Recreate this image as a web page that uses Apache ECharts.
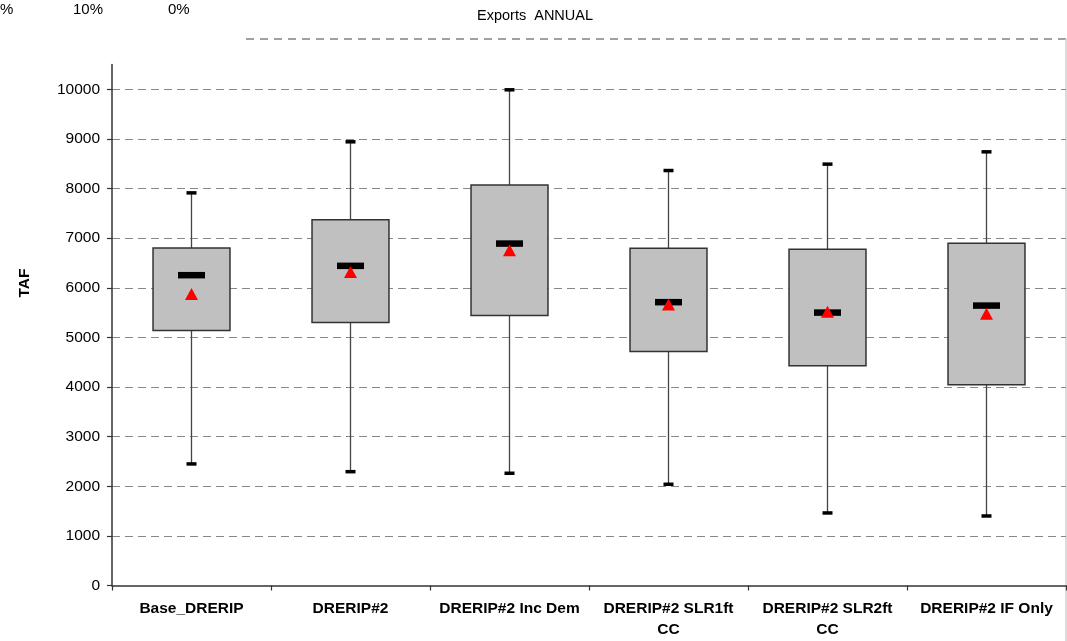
<!DOCTYPE html>
<html>
<head>
<meta charset="utf-8">
<style>
  html, body { margin: 0; padding: 0; background: #fff; }
  #chart { width: 1067px; height: 641px; }
</style>
<script src="https://cdn.jsdelivr.net/npm/echarts@6/dist/echarts.min.js"></script>
</head>
<body>
<div id="chart"></div>
<script>
// ---- data ----
const categories = ['Base_DRERIP', 'DRERIP#2', 'DRERIP#2 Inc Dem', 'DRERIP#2 SLR1ft\nCC', 'DRERIP#2 SLR2ft\nCC', 'DRERIP#2 IF Only'];
const minValues    = [2450, 2294, 2262, 2040, 1462, 1401];
const q1Values     = [5137, 5298, 5440, 4714, 4431, 4048];
const medianValues = [6254, 6442, 6891, 5710, 5500, 5641];
const q3Values     = [6804, 7369, 8069, 6798, 6778, 6899];
const maxValues    = [7913, 8942, 9990, 8363, 8492, 8740];
const meanValues   = [5873, 6317, 6758, 5665, 5518, 5478];
const yTickValues  = [0, 1000, 2000, 3000, 4000, 5000, 6000, 7000, 8000, 9000, 10000];

const FONT = '"Liberation Sans", Arial, sans-serif';

const boxData = categories.map((c, i) => [i, minValues[i], q1Values[i], medianValues[i], q3Values[i], maxValues[i]]);
const meanData = categories.map((c, i) => [i, meanValues[i]]);

const chart = echarts.init(document.getElementById('chart'), null, { renderer: 'canvas' });

chart.setOption({
  animation: false,
  backgroundColor: '#ffffff',
  grid: { left: 112, right: 1, top: 64.5, bottom: 55.5, containLabel: false },
  xAxis: {
    type: 'category',
    data: categories,
    boundaryGap: true,
    axisLine: { show: true, lineStyle: { color: '#333', width: 1.5 } },
    axisTick: { show: true, length: 5, lineStyle: { color: '#333', width: 1.2 } },
    axisLabel: {
      interval: 0, margin: 13,
      fontFamily: FONT, fontSize: 15.5, fontWeight: 'bold', color: '#000', lineHeight: 21
    },
    splitLine: { show: false }
  },
  yAxis: {
    type: 'value',
    min: 0, max: 10500, interval: 1000,
    axisLine: { show: true, lineStyle: { color: '#333', width: 1.5 } },
    axisTick: { show: true, length: 5, customValues: yTickValues, lineStyle: { color: '#333', width: 1.2 } },
    axisLabel: {
      customValues: yTickValues, margin: 12,
      formatter: function (v) { return String(v); },
      fontFamily: FONT, fontSize: 15.5, color: '#000'
    },
    splitLine: {
      show: true, showMinLine: false,
      lineStyle: { color: '#888', type: [8, 5], width: 1 }
    }
  },
  series: [
    {
      type: 'custom',
      data: boxData,
      encode: { x: 0, y: [1, 2, 3, 4, 5] },
      z: 2,
      renderItem: function (params, api) {
        const x = api.value(0);
        const pMin = api.coord([x, api.value(1)]);
        const pQ1 = api.coord([x, api.value(2)]);
        const pMed = api.coord([x, api.value(3)]);
        const pQ3 = api.coord([x, api.value(4)]);
        const pMax = api.coord([x, api.value(5)]);
        const band = api.size([1, 0])[0];
        const boxW = band * 0.484;
        const cx = pMed[0];
        const capW = 10, capH = 3.5, medW = 27, medH = 6.5;
        return {
          type: 'group',
          children: [
            { type: 'line', shape: { x1: cx, y1: pMax[1], x2: cx, y2: pMin[1] },
              style: { stroke: '#444', lineWidth: 1.3 } },
            { type: 'rect', shape: { x: cx - boxW / 2, y: pQ3[1], width: boxW, height: pQ1[1] - pQ3[1] },
              style: { fill: '#c0c0c0', stroke: '#333', lineWidth: 1.5 } },
            { type: 'rect', shape: { x: cx - capW / 2, y: pMax[1] - capH / 2, width: capW, height: capH },
              style: { fill: '#000' } },
            { type: 'rect', shape: { x: cx - capW / 2, y: pMin[1] - capH / 2, width: capW, height: capH },
              style: { fill: '#000' } },
            { type: 'rect', shape: { x: cx - medW / 2, y: pMed[1] - medH / 2, width: medW, height: medH },
              style: { fill: '#000' } }
          ]
        };
      }
    },
    {
      type: 'scatter',
      data: meanData,
      symbol: 'triangle',
      symbolSize: [13, 12],
      itemStyle: { color: '#ff0000', opacity: 1 },
      z: 3
    }
  ],
  graphic: [
    { type: 'text', left: 0, top: 2, style: { text: '%', font: '15px ' + FONT, fill: '#000' } },
    { type: 'text', left: 73, top: 2, style: { text: '10%', font: '15px ' + FONT, fill: '#000' } },
    { type: 'text', left: 168, top: 2, style: { text: '0%', font: '15px ' + FONT, fill: '#000' } },
    { type: 'text', left: 477, top: 8, style: { text: 'Exports  ANNUAL', font: '14.5px ' + FONT, fill: '#000' } },
    { type: 'line', shape: { x1: 246, y1: 39, x2: 1067, y2: 39 },
      style: { stroke: '#a0a0a0', lineWidth: 2, lineDash: [8, 6] } },
    { type: 'line', shape: { x1: 1066, y1: 39, x2: 1066, y2: 641 },
      style: { stroke: '#d0d0d0', lineWidth: 1.5 } },
    { type: 'text', x: 25, y: 283, rotation: Math.PI / 2,
      style: { text: 'TAF', font: 'bold 15.5px ' + FONT, fill: '#000', align: 'center', verticalAlign: 'middle' } }
  ]
});
</script>
</body>
</html>
